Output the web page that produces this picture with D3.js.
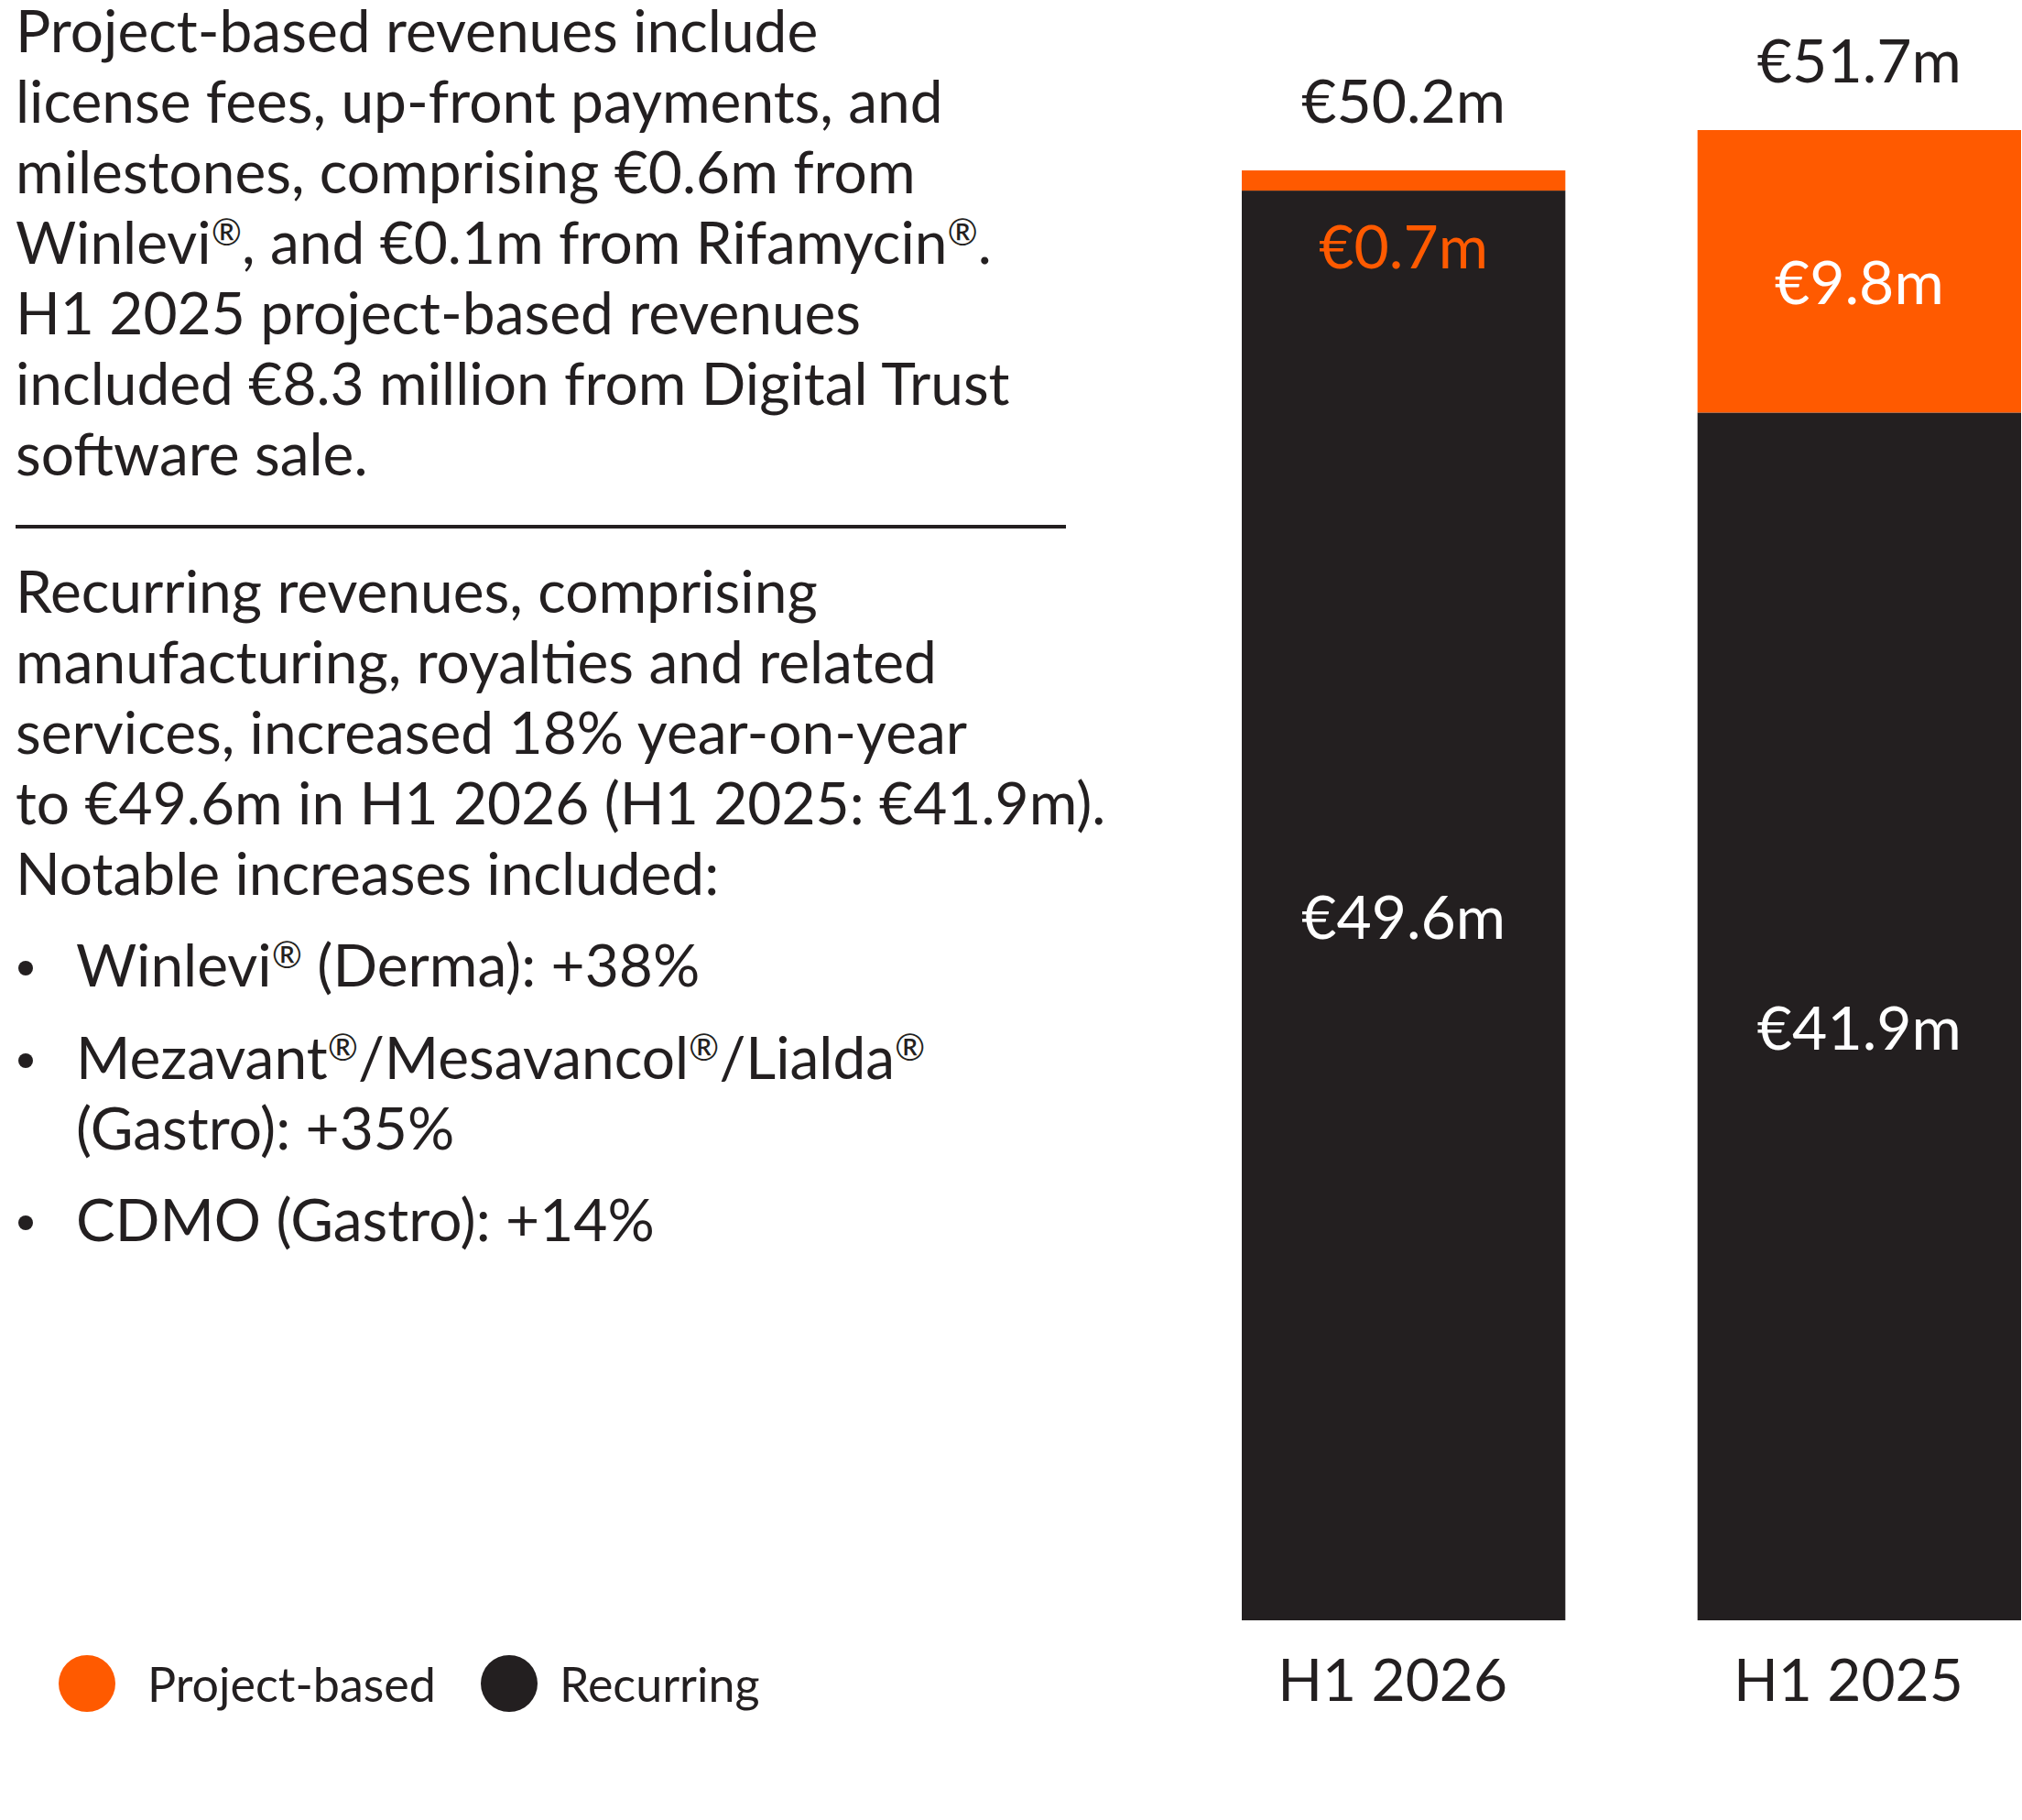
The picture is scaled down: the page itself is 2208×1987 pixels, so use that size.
<!DOCTYPE html>
<html>
<head>
<meta charset="utf-8">
<script src="https://cdn.jsdelivr.net/npm/d3@7"></script>
<style>
  body { margin: 0; background: #fff; }
  text { font-family: Lato, "Noto Sans", sans-serif; fill: #231f20; }
</style>
</head>
<body>
<svg width="2208" height="1987"></svg>
<script>
// chart data
const periods = ['H1 2026', 'H1 2025'];
const recurring = [49.6, 41.9];
const projectBased = [0.7, 9.8];
const totals = [50.2, 51.7];
const seriesNames = ['Project-based', 'Recurring'];

// commentary text
const projectNote = [
    'Project-based revenues include',
    'license fees, up-front payments, and',
    'milestones, comprising €0.6m from',
    'Winlevi®, and €0.1m from Rifamycin®.',
    'H1 2025 project-based revenues',
    'included €8.3 million from Digital Trust',
    'software sale.'
];
const recurringNote = [
    'Recurring revenues, comprising',
    'manufacturing, royalties and related',
    'services, increased 18% year-on-year',
    'to €49.6m in H1 2026 (H1 2025: €41.9m).',
    'Notable increases included:'
];
const bullets = [
    ['Winlevi® (Derma): +38%'],
    ['Mezavant®/Mesavancol®/Lialda®', '(Gastro): +35%'],
    ['CDMO (Gastro): +14%']
];

const orange = '#ff5a00';
const dark = '#231f20';
const bodySize = 64;

const svg = d3.select('svg');

// write a line, with ® set small and raised like in print
function writeLine(sel, str) {
    str.split(/(®)/).filter(s => s !== '').forEach((part, k, arr) => {
        const prev = arr[k - 1];
        const t = sel.append('tspan').text(part);
        if (part === '®') {
            t.attr('font-size', 40).attr('dy', -20);
        } else if (prev === '®') {
            t.attr('dy', 20);
        }
    });
}

const x = d3.scaleBand()
    .domain(periods)
    .range([1356, 2207])
    .paddingInner(0.29)
    .paddingOuter(0);

const y = d3.scaleLinear()
    .domain([0, d3.max(totals)])
    .range([1769, 142]);

const color = d3.scaleOrdinal().domain(seriesNames).range([orange, dark]);

// stack: recurring at the bottom, project-based on top
const rows = periods.map((p, i) => ({period: p, Recurring: recurring[i], 'Project-based': projectBased[i]}));
const stack = d3.stack().keys(['Recurring', 'Project-based'])(rows);

const layers = svg.selectAll('g.layer').data(stack)
    .enter().append('g')
    .attr('class', 'layer')
    .attr('fill', d => color(d.key));

layers.selectAll('rect').data(d => d)
    .enter().append('rect')
    .attr('x', d => x(d.data.period))
    .attr('width', x.bandwidth())
    .attr('y', d => y(d[1]))
    .attr('height', d => y(d[0]) - y(d[1]));

// segment value labels
stack.forEach(layer => {
    layer.forEach(d => {
        const h = y(d[0]) - y(d[1]);
        const v = d[1] - d[0];
        const thin = h < 80;
        svg.append('text')
            .attr('x', x(d.data.period) + x.bandwidth() / 2)
            .attr('y', thin ? y(d[0]) + 85 : (y(d[0]) + y(d[1])) / 2 + 36)
            .attr('text-anchor', 'middle')
            .attr('font-size', 66)
            .style('fill', thin ? orange : '#fff')
            .text('€' + v.toFixed(1) + 'm');
    });
});

// totals above bars
svg.selectAll('text.total').data(periods)
    .enter().append('text')
    .attr('class', 'total')
    .attr('x', d => x(d) + x.bandwidth() / 2)
    .attr('y', (d, i) => y(rows[i].Recurring + rows[i]['Project-based']) - 52)
    .attr('text-anchor', 'middle')
    .attr('font-size', 66)
    .text((d, i) => '€' + totals[i].toFixed(1) + 'm');

// category axis
const xAxis = svg.append('g')
    .attr('transform', 'translate(-12,1769)')
    .call(d3.axisBottom(x).tickSize(0).tickPadding(43));
xAxis.select('.domain').remove();
xAxis.selectAll('text')
    .attr('font-size', 64)
    .attr('font-family', 'Lato, sans-serif')
    .style('fill', dark);

// left commentary
const lh = 77;
svg.append('g').selectAll('text').data(projectNote)
    .enter().append('text')
    .attr('x', 17)
    .attr('y', (d, i) => 57 + i * lh)
    .attr('font-size', bodySize)
    .each(function(d) { writeLine(d3.select(this), d); });

svg.append('line')
    .attr('x1', 17).attr('x2', 1164)
    .attr('y1', 575).attr('y2', 575)
    .attr('stroke', dark)
    .attr('stroke-width', 4);

svg.append('g').selectAll('text').data(recurringNote)
    .enter().append('text')
    .attr('x', 17)
    .attr('y', (d, i) => 669 + i * lh)
    .attr('font-size', bodySize)
    .each(function(d) { writeLine(d3.select(this), d); });

const bulletTop = [1077, 1178, 1355];
bullets.forEach((lines, i) => {
    svg.append('circle')
        .attr('cx', 28).attr('cy', bulletTop[i] - 20).attr('r', 8)
        .attr('fill', dark);
    lines.forEach((t, j) => {
        svg.append('text')
            .attr('x', 83)
            .attr('y', bulletTop[i] + j * lh)
            .attr('font-size', bodySize)
            .call(writeLine, t);
    });
});

// legend
const legendX = [95, 556];
const legend = svg.selectAll('g.legend').data(seriesNames)
    .enter().append('g')
    .attr('class', 'legend')
    .attr('transform', (d, i) => `translate(${legendX[i]},1838)`);
legend.append('circle').attr('r', 31).attr('fill', d => color(d));
legend.append('text')
    .attr('x', (d, i) => i === 0 ? 66 : 55)
    .attr('y', 20)
    .attr('font-size', 52)
    .text(d => d);
</script>
</body>
</html>
